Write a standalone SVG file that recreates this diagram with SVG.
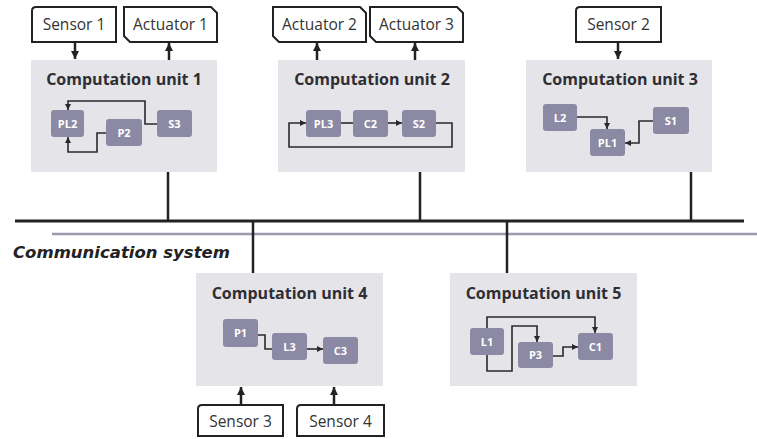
<svg xmlns="http://www.w3.org/2000/svg" width="757" height="439" viewBox="0 0 757 439">
  <style>
    .unit { fill: #e5e4e9; }
    .title { font-family: "Open Sans", "Liberation Sans", sans-serif; font-weight: bold; font-size: 16px; fill: #2e2e33; text-anchor: middle; }
    .box { fill: #8b89a4; }
    .blabel { font-family: "Open Sans", "Liberation Sans", sans-serif; font-weight: bold; font-size: 11px; fill: #ffffff; text-anchor: middle; }
    .io { fill: #ffffff; stroke: #222222; stroke-width: 2; }
    .iolabel { font-family: "Open Sans", "Liberation Sans", sans-serif; font-size: 15.5px; fill: #333333; text-anchor: middle; }
    .wire { fill: none; stroke: #2a2a2a; stroke-width: 1.6; }
    .io-arrow { fill: none; stroke: #222222; stroke-width: 2.5; }
    .bus { fill: none; stroke: #222222; stroke-width: 3; }
    .drop { fill: none; stroke: #222222; stroke-width: 2.5; }
  </style>
  <defs>
    <marker id="tip" viewBox="0 0 6 6" refX="6" refY="3" markerWidth="6" markerHeight="6" markerUnits="userSpaceOnUse" orient="auto">
      <path d="M0,0 L6,3 L0,6 z" fill="#2a2a2a"/>
    </marker>
    <marker id="bigtip" viewBox="0 0 8 8" refX="8" refY="4" markerWidth="8" markerHeight="8" markerUnits="userSpaceOnUse" orient="auto">
      <path d="M0,0 L8,4 L0,8 z" fill="#222222"/>
    </marker>
  </defs>

  <!-- communication bus -->
  <g id="bus">
    <path class="bus" d="M15,221 H744"/>
    <path d="M52,234 H757" fill="none" stroke="#9a99ae" stroke-width="2.5"/>
    <text x="13" y="258" font-family="DejaVu Sans, Verdana, sans-serif" font-weight="bold" font-style="italic" font-size="16.5px" fill="#222222">Communication system</text>
  </g>

  <!-- computation units -->
  <g id="unit1">
    <rect class="unit" x="31" y="60" width="186" height="112"/>
    <text class="title" x="124" y="85">Computation unit 1</text>
    <g id="PL2"><rect class="box" x="51" y="110" width="33" height="27" rx="3"/><text class="blabel" x="67.5" y="127.5">PL2</text></g>
    <g id="P2"><rect class="box" x="106" y="119" width="36" height="27" rx="3"/><text class="blabel" x="124" y="136.5">P2</text></g>
    <g id="S3"><rect class="box" x="157" y="110" width="35" height="27" rx="3"/><text class="blabel" x="174.5" y="127.5">S3</text></g>
  </g>

  <g id="unit2">
    <rect class="unit" x="278" y="60" width="187" height="112"/>
    <text class="title" x="372" y="85">Computation unit 2</text>
    <g id="PL3"><rect class="box" x="306" y="110" width="35" height="27" rx="3"/><text class="blabel" x="323.5" y="127.5">PL3</text></g>
    <g id="C2"><rect class="box" x="353" y="110" width="35" height="27" rx="3"/><text class="blabel" x="370.5" y="127.5">C2</text></g>
    <g id="S2"><rect class="box" x="402" y="110" width="34" height="27" rx="3"/><text class="blabel" x="419" y="127.5">S2</text></g>
  </g>

  <g id="unit3">
    <rect class="unit" x="526" y="60" width="186" height="112"/>
    <text class="title" x="620" y="85">Computation unit 3</text>
    <g id="L2"><rect class="box" x="543" y="104" width="34" height="27" rx="3"/><text class="blabel" x="560" y="121.5">L2</text></g>
    <g id="S1"><rect class="box" x="653" y="107" width="36" height="27" rx="3"/><text class="blabel" x="671" y="124.5">S1</text></g>
    <g id="PL1"><rect class="box" x="590" y="129" width="35" height="27" rx="3"/><text class="blabel" x="607.5" y="146.5">PL1</text></g>
  </g>

  <g id="unit4">
    <rect class="unit" x="196" y="273" width="187" height="113"/>
    <text class="title" x="289.5" y="299">Computation unit 4</text>
    <g id="P1"><rect class="box" x="223" y="319" width="35" height="28" rx="3"/><text class="blabel" x="240.5" y="337">P1</text></g>
    <g id="L3"><rect class="box" x="272" y="333" width="35" height="27" rx="3"/><text class="blabel" x="289.5" y="350.5">L3</text></g>
    <g id="C3"><rect class="box" x="323" y="337" width="35" height="27" rx="3"/><text class="blabel" x="340.5" y="354.5">C3</text></g>
  </g>

  <g id="unit5">
    <rect class="unit" x="450" y="273" width="187" height="113"/>
    <text class="title" x="543.5" y="299">Computation unit 5</text>
    <g id="L1"><rect class="box" x="470" y="328" width="34" height="27" rx="3"/><text class="blabel" x="487" y="345.5">L1</text></g>
    <g id="P3"><rect class="box" x="518" y="342" width="35" height="26" rx="3"/><text class="blabel" x="535.5" y="359">P3</text></g>
    <g id="C1"><rect class="box" x="578" y="333" width="35" height="27" rx="3"/><text class="blabel" x="595.5" y="350.5">C1</text></g>
  </g>

  <!-- sensors and actuators -->
  <g id="sensor1">
    <path class="io" d="M32,11 Q32,7 36,7 H116 V42 H32 Z"/>
    <text class="iolabel" x="74" y="30">Sensor 1</text>
  </g>
  <g id="actuator1">
    <path class="io" d="M124,7 H211 L217,13 V42 H130 L124,36 Z"/>
    <text class="iolabel" x="170.5" y="30">Actuator 1</text>
  </g>
  <g id="actuator2">
    <path class="io" d="M273,7 H360 L366,13 V42 H279 L273,36 Z"/>
    <text class="iolabel" x="319.5" y="30">Actuator 2</text>
  </g>
  <g id="actuator3">
    <path class="io" d="M370,7 H457 L463,13 V42 H376 L370,36 Z"/>
    <text class="iolabel" x="416.5" y="30">Actuator 3</text>
  </g>
  <g id="sensor2">
    <path class="io" d="M576,11 Q576,7 580,7 H661 V42 H576 Z"/>
    <text class="iolabel" x="618.5" y="30">Sensor 2</text>
  </g>
  <g id="sensor3">
    <path class="io" d="M198,409 Q198,405 202,405 H283 V436 H198 Z"/>
    <text class="iolabel" x="240.5" y="427">Sensor 3</text>
  </g>
  <g id="sensor4">
    <path class="io" d="M297,409 Q297,405 301,405 H384 V436 H297 Z"/>
    <text class="iolabel" x="340.5" y="427">Sensor 4</text>
  </g>

  <!-- connectors -->
  <g id="connectors">
    <!-- sensor / actuator links -->
    <path class="io-arrow" d="M75,42 V59" marker-end="url(#bigtip)"/>
    <path class="io-arrow" d="M169,60 V43" marker-end="url(#bigtip)"/>
    <path class="io-arrow" d="M317,60 V43" marker-end="url(#bigtip)"/>
    <path class="io-arrow" d="M415,60 V43" marker-end="url(#bigtip)"/>
    <path class="io-arrow" d="M618,42 V59" marker-end="url(#bigtip)"/>
    <path class="io-arrow" d="M241,405 V387" marker-end="url(#bigtip)"/>
    <path class="io-arrow" d="M334,405 V387" marker-end="url(#bigtip)"/>

    <!-- bus drops -->
    <path class="drop" d="M168,172 V221"/>
    <path class="drop" d="M420,172 V221"/>
    <path class="drop" d="M691,172 V221"/>
    <path class="drop" d="M253,221 V273"/>
    <path class="drop" d="M507,221 V273"/>

    <!-- unit 1 -->
    <path class="wire" d="M157,124 H145 V101 H68 V110" marker-end="url(#tip)"/>
    <path class="wire" d="M106,133 H97 V152 H68 V137" marker-end="url(#tip)"/>
    <!-- unit 2 -->
    <path class="wire" d="M341,123 H353"/>
    <path class="wire" d="M388,123 H402" marker-end="url(#tip)"/>
    <path class="wire" d="M436,123 H452 V147 H289 V123 H306" marker-end="url(#tip)"/>
    <!-- unit 3 -->
    <path class="wire" d="M577,117 H607 V129" marker-end="url(#tip)"/>
    <path class="wire" d="M653,121 H639 V143 H625" marker-end="url(#tip)"/>
    <!-- unit 4 -->
    <path class="wire" d="M258,335 H265 V349 H272"/>
    <path class="wire" d="M307,349 H323" marker-end="url(#tip)"/>
    <!-- unit 5 -->
    <path class="wire" d="M487,328 V317 H595 V333" marker-end="url(#tip)"/>
    <path class="wire" d="M487,355 V371 H512 V326 H537 V342" marker-end="url(#tip)"/>
    <path class="wire" d="M553,356 H563 V347 H578" marker-end="url(#tip)"/>
  </g>
</svg>
